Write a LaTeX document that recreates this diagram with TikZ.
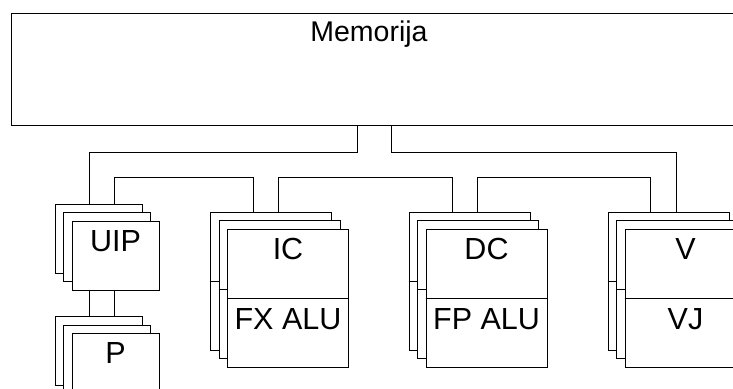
\documentclass[tikz,border=0pt]{standalone}
\usepackage{fontspec}
\setmainfont{Liberation Sans}
\tikzset{
  box/.style={draw, fill=white, line width=1pt, inner sep=0pt, anchor=north west,
    minimum width=87pt, minimum height=69pt},
  unit/.style={box, minimum width=121pt, minimum height=138pt},
  lbl/.style={anchor=base, inner sep=0pt, font=\fontsize{30.5}{33}\selectfont},
  bus/.style={line width=1pt}
}
\begin{document}
\begin{tikzpicture}[x=1pt,y=-1pt]
  \useasboundingbox (0,0) rectangle (733,388);

  % memorija
  \node[box, minimum width=734pt, minimum height=112.5pt] (mem) at (11,12.5) {};
  \node[lbl, font=\fontsize{28.5}{32}\selectfont] (memT) at (369,41) {Memorija};

  % UIP i P
  \node[box] (uipA) at (54.5,203.5) {};
  \node[box] (uipB) at (63,212) {};
  \node[box] (uipC) at (71.5,220.5) {};
  \node[lbl] (uipT) at ([yshift=-30.5pt]uipC.north) {UIP};
  \node[box] (pA) at (54.5,316) {};
  \node[box] (pB) at (63,324.5) {};
  \node[box] (pC) at (71.5,333) {};
  \node[lbl] (pT) at ([yshift=-30pt]pC.north) {P};

  % IC / FX ALU
  \node[unit] (icA) at (210,211.5) {};
  \draw[bus] (icA.west) -- (icA.east);
  \node[unit] (icB) at (218.5,220) {};
  \draw[bus] (icB.west) -- (icB.east);
  \node[unit] (icC) at (227,228.5) {};
  \draw[bus] (icC.west) -- (icC.east);
  \node[lbl] (icT) at ([yshift=-30.5pt]icC.north) {IC};
  \node[lbl] (fxT) at ([yshift=-31pt]icC.center) {FX ALU};

  % DC / FP ALU
  \node[unit] (dcA) at (408.5,211.5) {};
  \draw[bus] (dcA.west) -- (dcA.east);
  \node[unit] (dcB) at (417,220) {};
  \draw[bus] (dcB.west) -- (dcB.east);
  \node[unit] (dcC) at (425.5,228.5) {};
  \draw[bus] (dcC.west) -- (dcC.east);
  \node[lbl] (dcT) at ([yshift=-30.5pt]dcC.north) {DC};
  \node[lbl] (fpT) at ([yshift=-31pt]dcC.center) {FP ALU};

  % V / VJ
  \node[unit] (vA) at (607.5,211.5) {};
  \draw[bus] (vA.west) -- (vA.east);
  \node[unit] (vB) at (616,220) {};
  \draw[bus] (vB.west) -- (vB.east);
  \node[unit] (vC) at (624.5,228.5) {};
  \draw[bus] (vC.west) -- (vC.east);
  \node[lbl] (vT) at ([yshift=-30.5pt]vC.north) {V};
  \node[lbl] (vjT) at ([yshift=-31pt]vC.center) {VJ};

  % veze
  \draw[bus] (mem.south -| 357,0) -- ++(0,26) -| (uipA.north -| 89,0);
  \draw[bus] (mem.south -| 391.5,0) -- ++(0,26) -| (vA.north -| 676,0);
  \draw[bus] (uipA.north -| 114,0) -- ++(0,-26.5) -| (icA.north -| 253,0);
  \draw[bus] (icA.north -| 278,0) -- ++(0,-34.5) -| (dcA.north -| 452,0);
  \draw[bus] (dcA.north -| 477,0) -- ++(0,-34.5) -| (vA.north -| 650,0);
  \draw[bus] (uipC.south -| 89,0) -- (pA.north -| 89,0);
  \draw[bus] (uipC.south -| 114,0) -- (pA.north -| 114,0);
\end{tikzpicture}
\end{document}
